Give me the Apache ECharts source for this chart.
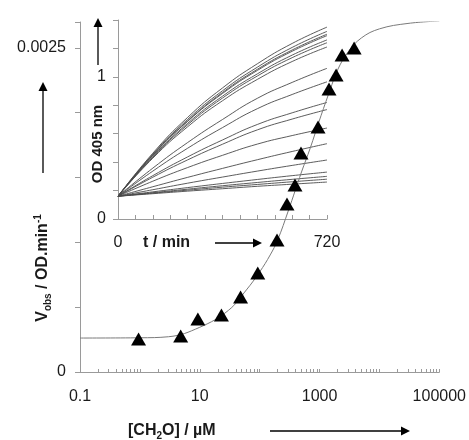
<!DOCTYPE html>
<html>
<head>
<meta charset="utf-8">
<script src="https://cdn.jsdelivr.net/npm/echarts@6/dist/echarts.min.js"></script>
<style>html,body{margin:0;padding:0;background:#fff}#c{width:469px;height:440px}</style>
</head>
<body>
<div id="c"></div>
<script>
// Main plot: rate vs concentration (log scale)
const concData = [0.95, 4.8, 9.3, 23, 48, 93, 195, 286, 389, 490, 944, 1440, 1890, 2380, 3780];
const vobsData = [0.000255, 0.000278, 0.000409, 0.000440, 0.000579, 0.000764, 0.001019, 0.001296, 0.001443, 0.001690, 0.001890, 0.002184, 0.002292, 0.002446, 0.002500];
// Fitted curve
const fitConc = [0.1, 1, 3, 10, 30, 60, 100, 150, 200, 300, 500, 700, 1000, 1500, 2000, 3000, 5000, 10000, 30000, 100000];
const fitVobs = [0.000262, 0.000264, 0.000272, 0.000345, 0.000475, 0.000633, 0.000772, 0.000903, 0.001019, 0.001242, 0.001543, 0.001728, 0.001944, 0.002176, 0.00233, 0.002469, 0.002577, 0.002647, 0.002689, 0.002708];
const xLabelValues = [0.1, 10, 1000, 100000];
const xLabelTexts = ['0.1', '10', '1000', '100000'];
const decades = [0.1, 1, 10, 100, 1000, 10000];
const yLabelValues = [0, 0.0025];

// Inset: OD 405 nm time courses
const tMin = [0, 120, 240, 360, 480, 600, 720];
const odCurves = [
  [0.16, 0.463, 0.715, 0.922, 1.092, 1.235, 1.35],
  [0.16, 0.456, 0.701, 0.902, 1.068, 1.207, 1.32],
  [0.16, 0.451, 0.691, 0.890, 1.053, 1.189, 1.30],
  [0.16, 0.448, 0.687, 0.883, 1.045, 1.180, 1.29],
  [0.16, 0.440, 0.673, 0.864, 1.021, 1.153, 1.26],
  [0.16, 0.435, 0.663, 0.851, 1.006, 1.135, 1.24],
  [0.16, 0.428, 0.649, 0.832, 0.982, 1.108, 1.21],
  [0.16, 0.358, 0.538, 0.700, 0.849, 0.961, 1.06],
  [0.16, 0.337, 0.498, 0.643, 0.776, 0.876, 0.965],
  [0.16, 0.305, 0.437, 0.556, 0.665, 0.747, 0.82],
  [0.16, 0.294, 0.416, 0.526, 0.627, 0.703, 0.77],
  [0.16, 0.266, 0.362, 0.448, 0.527, 0.587, 0.64],
  [0.16, 0.227, 0.293, 0.356, 0.417, 0.475, 0.53],
  [0.16, 0.206, 0.252, 0.295, 0.337, 0.377, 0.415],
  [0.16, 0.191, 0.221, 0.250, 0.278, 0.305, 0.33],
  [0.16, 0.185, 0.210, 0.234, 0.257, 0.279, 0.30],
  [0.16, 0.182, 0.203, 0.224, 0.243, 0.262, 0.28],
  [0.16, 0.178, 0.196, 0.213, 0.230, 0.245, 0.26]
];
const insetXLabels = [0, 720];
const insetYLabels = [0, 1];

const FONT = '"Liberation Sans", Arial, Helvetica, sans-serif';
const AXIS = '#9a9a9a';
const TXT = '#1a1a1a';

const xTickValues = [];
decades.forEach(d => { for (let m = 1; m <= 9; m++) { const v = +(d * m).toPrecision(6); if (v <= 100000) xTickValues.push(v); } });
xTickValues.push(100000);

const chart = echarts.init(document.getElementById('c'), null, {renderer: 'canvas'});

const insetSeries = odCurves.map(c => ({
  type: 'line', xAxisIndex: 1, yAxisIndex: 1,
  data: tMin.map((t, i) => [t, c[i]]),
  smooth: true, showSymbol: false, silent: true,
  lineStyle: {color: '#4a4a4a', width: 0.9}, z: 1
}));

function arrow(x1, y1, x2, y2, len, half) {
  const dx = x2 - x1, dy = y2 - y1, L = Math.hypot(dx, dy);
  const ux = dx / L, uy = dy / L;
  const bx = x2 - ux * len, by = y2 - uy * len;
  return [
    {type: 'line', shape: {x1: x1, y1: y1, x2: bx, y2: by}, style: {stroke: '#000', lineWidth: 1.3}},
    {type: 'polygon', shape: {points: [[x2, y2], [bx - uy * half, by + ux * half], [bx + uy * half, by - ux * half]]}, style: {fill: '#000'}}
  ];
}

const option = {
  animation: false,
  backgroundColor: '#fff',
  grid: [
    {left: 80, top: 22, width: 360, height: 350},
    {left: 118, top: 20, width: 209, height: 199}
  ],
  xAxis: [
    {
      type: 'log', logBase: 10, min: 0.1, max: 100000, gridIndex: 0,
      axisLine: {lineStyle: {color: AXIS, width: 1}},
      axisTick: {show: true, inside: true, length: 3, lineStyle: {color: AXIS}, customValues: xTickValues},
      minorTick: {show: false},
      splitLine: {show: false},
      axisLabel: {
        customValues: xLabelValues, margin: 17, color: TXT, fontSize: 16, fontFamily: FONT,
        formatter: v => { const i = xLabelValues.findIndex(a => Math.abs(Math.log10(a) - Math.log10(v)) < 1e-6); return i >= 0 ? xLabelTexts[i] : ''; }
      }
    },
    {
      type: 'value', min: 0, max: 720, interval: 60, gridIndex: 1,
      axisLine: {lineStyle: {color: AXIS, width: 1}},
      axisTick: {show: true, inside: true, length: 4, lineStyle: {color: AXIS}},
      splitLine: {show: false},
      axisLabel: {customValues: insetXLabels, margin: 16, color: TXT, fontSize: 16, fontFamily: FONT}
    }
  ],
  yAxis: [
    {
      type: 'value', min: 0, max: 0.0027, interval: 0.0005, gridIndex: 0,
      axisLine: {show: true, lineStyle: {color: AXIS, width: 1}},
      axisTick: {show: true, inside: false, length: 5, lineStyle: {color: AXIS}},
      splitLine: {show: false},
      axisLabel: {customValues: yLabelValues, margin: 14, color: TXT, fontSize: 16, fontFamily: FONT}
    },
    {
      type: 'value', min: 0, max: 1.4, interval: 0.2, gridIndex: 1,
      axisLine: {show: true, lineStyle: {color: AXIS, width: 1}},
      axisTick: {show: true, inside: false, length: 5, lineStyle: {color: AXIS}},
      splitLine: {show: false},
      axisLabel: {customValues: insetYLabels, margin: 12, color: TXT, fontSize: 16, fontFamily: FONT}
    }
  ],
  series: insetSeries.concat([
    {
      type: 'line', xAxisIndex: 0, yAxisIndex: 0,
      data: fitConc.map((x, i) => [x, fitVobs[i]]),
      smooth: 0.4, showSymbol: false, silent: true,
      lineStyle: {color: '#7a7a7a', width: 1}, z: 3
    },
    {
      type: 'scatter', xAxisIndex: 0, yAxisIndex: 0,
      data: concData.map((x, i) => [x, vobsData[i]]),
      symbol: 'triangle', symbolSize: [15, 13],
      itemStyle: {color: '#000', opacity: 1}, z: 5
    }
  ]),
  graphic: [
    {type: 'text', x: 43, y: 268, rotation: Math.PI / 2,
      style: {text: '{b|V}{s|obs}{b| / OD.min}{p|-1}', align: 'center', verticalAlign: 'middle',
        rich: {
          b: {fontSize: 16, fontWeight: 'bold', fontFamily: FONT, fill: TXT, lineHeight: 20},
          s: {fontSize: 10, fontWeight: 'bold', fontFamily: FONT, fill: TXT, lineHeight: 12, verticalAlign: 'bottom'},
          p: {fontSize: 10, fontWeight: 'bold', fontFamily: FONT, fill: TXT, lineHeight: 12, verticalAlign: 'top'}
        }}},
    {type: 'text', x: 128, y: 431,
      style: {text: '{b|[CH}{s|2}{b|O] / µM}', align: 'left', verticalAlign: 'middle',
        rich: {
          b: {fontSize: 16, fontWeight: 'bold', fontFamily: FONT, fill: TXT, lineHeight: 20},
          s: {fontSize: 10, fontWeight: 'bold', fontFamily: FONT, fill: TXT, lineHeight: 12, verticalAlign: 'bottom'}
        }}},
    {type: 'text', x: 98, y: 144, rotation: Math.PI / 2,
      style: {text: 'OD 405 nm', align: 'center', verticalAlign: 'middle', fontSize: 15, fontWeight: 'bold', fontFamily: FONT, fill: TXT}},
    {type: 'text', x: 143, y: 243,
      style: {text: 't / min', align: 'left', verticalAlign: 'middle', fontSize: 16, fontWeight: 'bold', fontFamily: FONT, fill: TXT}}
  ].concat(arrow(43, 173, 43, 82, 9, 4.5))
   .concat(arrow(270, 431, 410, 431, 9, 4.5))
   .concat(arrow(98, 65, 98, 18, 9, 4.5))
   .concat(arrow(215, 243, 262, 243, 9, 4.5))
};
chart.setOption(option);
</script>
</body>
</html>
